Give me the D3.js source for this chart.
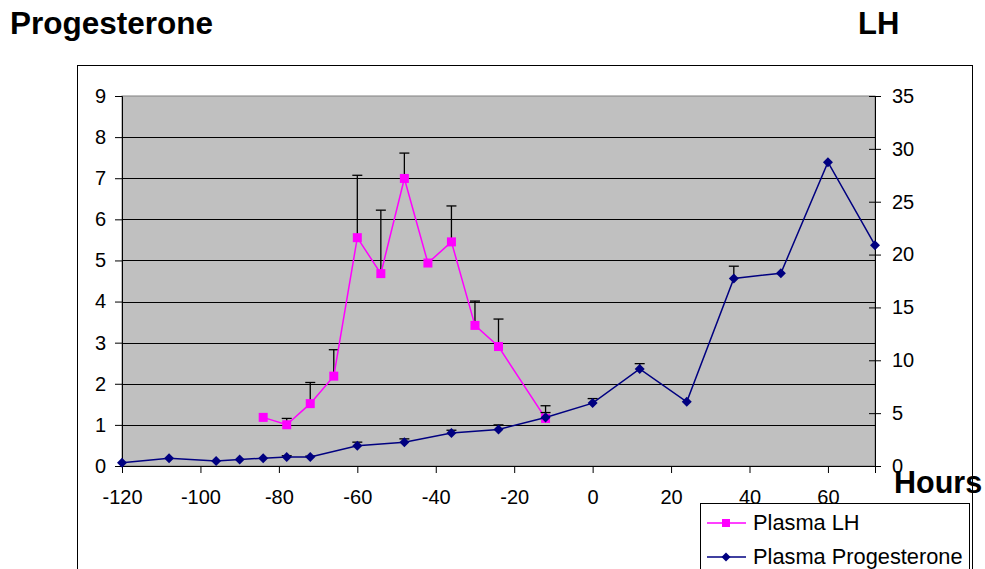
<!DOCTYPE html>
<html>
<head>
<meta charset="utf-8">
<script src="https://cdn.jsdelivr.net/npm/d3@7"></script>
<style>
  html, body { margin: 0; padding: 0; background: #fff; }
  svg { display: block; font-family: "Liberation Sans", Arial, sans-serif; }
</style>
</head>
<body>
<svg id="chart" width="985" height="569"></svg>
<script>
// ---- data ----
const hoursLH = [-84, -78, -72, -66, -60, -54, -48, -42, -36, -30, -24, -12];
const plasmaLH = [4.6, 3.9, 5.9, 8.5, 21.6, 18.2, 27.2, 19.2, 21.2, 13.3, 11.3, 4.5];
const plasmaLHErr = [0, 0.6, 2.0, 2.5, 5.9, 6.0, 2.4, 0, 3.4, 2.3, 2.6, 1.2];

const hoursProg = [-120, -108, -96, -90, -84, -78, -72, -60, -48, -36, -24, -12, 0, 12, 24, 36, 48, 60, 72];
const plasmaProg = [0.08, 0.19, 0.12, 0.16, 0.19, 0.22, 0.22, 0.49, 0.58, 0.80, 0.89, 1.18, 1.53, 2.36, 1.56, 4.56, 4.69, 7.39, 5.37];
const plasmaProgErr = [0, 0, 0, 0, 0, 0.03, 0.02, 0.09, 0.08, 0.07, 0.11, 0.12, 0.11, 0.13, 0, 0.30, 0, 0, 0];

const xTicks = [-120, -100, -80, -60, -40, -20, 0, 20, 40, 60];
const leftTicks = [0, 1, 2, 3, 4, 5, 6, 7, 8, 9];
const rightTicks = [0, 5, 10, 15, 20, 25, 30, 35];

const leftTitle = "Progesterone";
const rightTitle = "LH";
const xTitle = "Hours";
const legendLabels = ["Plasma LH", "Plasma Progesterone"];

// ---- layout ----
const svg = d3.select("#chart");
const L = 122, R = 875, T = 96, B = 466;

const x = d3.scaleLinear().domain([-120, 72]).range([L, R]);
const yL = d3.scaleLinear().domain([0, 9]).range([B, T]);
const yR = d3.scaleLinear().domain([0, 35]).range([B, T]);
const fmt = d => String(d);

// outer chart border
svg.append("rect").attr("x", 77.5).attr("y", 65.5).attr("width", 895).attr("height", 600)
  .attr("fill", "#fff").attr("stroke", "#000").attr("stroke-width", 1);

// plot area
svg.append("rect").attr("x", L).attr("y", T).attr("width", R - L).attr("height", B - T)
  .attr("fill", "#c0c0c0").attr("stroke", "#808080").attr("stroke-width", 1);

// gridlines
svg.append("g").selectAll("line").data(leftTicks.filter(d => d > 0 && d < 9)).join("line")
  .attr("x1", L).attr("x2", R)
  .attr("y1", d => Math.round(yL(d)) + 0.5).attr("y2", d => Math.round(yL(d)) + 0.5)
  .attr("stroke", "#000").attr("stroke-width", 1);

// axes
const fontSize = 20;
const gLeft = svg.append("g").attr("transform", `translate(${L},0)`)
  .call(d3.axisLeft(yL).tickValues(leftTicks).tickSize(7).tickPadding(9).tickFormat(fmt));
const gRight = svg.append("g").attr("transform", `translate(${R},0)`)
  .call(d3.axisRight(yR).tickValues(rightTicks).tickSize(6).tickPadding(11).tickFormat(fmt));
gRight.selectAll(".tick line").attr("x1", -6);
const gBottom = svg.append("g").attr("transform", `translate(0,${B})`)
  .call(d3.axisBottom(x).tickValues(xTicks).tickSize(7).tickPadding(17).tickFormat(fmt));

[gLeft, gRight, gBottom].forEach(g => {
  g.selectAll(".domain").attr("stroke", "#000").attr("stroke-width", 1);
  g.selectAll(".tick line").attr("stroke", "#000");
  g.selectAll("text").attr("font-size", fontSize).attr("fill", "#000")
    .attr("font-family", "'Liberation Sans', Arial, sans-serif");
});
gBottom.selectAll("text").attr("dy", "0.71em");

// error bars helper
function errorBars(hours, vals, errs, yScale) {
  const data = hours.map((h, i) => ({h, v: vals[i], e: errs[i]})).filter(d => d.e > 0);
  const g = svg.append("g").attr("stroke", "#000").attr("stroke-width", 1.3);
  g.selectAll("line.v").data(data).join("line").attr("class", "v")
    .attr("x1", d => x(d.h)).attr("x2", d => x(d.h))
    .attr("y1", d => yScale(d.v)).attr("y2", d => yScale(d.v + d.e));
  g.selectAll("line.c").data(data).join("line").attr("class", "c")
    .attr("x1", d => x(d.h) - 5).attr("x2", d => x(d.h) + 5)
    .attr("y1", d => yScale(d.v + d.e)).attr("y2", d => yScale(d.v + d.e));
}

// LH series (right axis)
const lhData = hoursLH.map((h, i) => ({h, v: plasmaLH[i]}));
errorBars(hoursLH, plasmaLH, plasmaLHErr, yR);
svg.append("path").datum(lhData)
  .attr("d", d3.line().x(d => x(d.h)).y(d => yR(d.v)))
  .attr("fill", "none").attr("stroke", "#ff00ff").attr("stroke-width", 1.5);
svg.append("g").selectAll("rect").data(lhData).join("rect")
  .attr("x", d => x(d.h) - 4.5).attr("y", d => yR(d.v) - 4.5)
  .attr("width", 9).attr("height", 9).attr("fill", "#ff00ff");

// Progesterone series (left axis)
const pData = hoursProg.map((h, i) => ({h, v: plasmaProg[i]}));
errorBars(hoursProg, plasmaProg, plasmaProgErr, yL);
svg.append("path").datum(pData)
  .attr("d", d3.line().x(d => x(d.h)).y(d => yL(d.v)))
  .attr("fill", "none").attr("stroke", "#000080").attr("stroke-width", 1.5);
const diamond = "M0,-5L5,0L0,5L-5,0Z";
svg.append("g").selectAll("path").data(pData).join("path")
  .attr("transform", d => `translate(${x(d.h)},${yL(d.v)})`)
  .attr("d", diamond).attr("fill", "#000080");

// titles
svg.append("text").attr("x", 10).attr("y", 34).text(leftTitle)
  .attr("font-size", 31.5).attr("font-weight", "bold").attr("fill", "#000");
svg.append("text").attr("x", 858).attr("y", 34).text(rightTitle)
  .attr("font-size", 31).attr("font-weight", "bold").attr("fill", "#000");
svg.append("text").attr("x", 894).attr("y", 493).text(xTitle)
  .attr("font-size", 30.5).attr("font-weight", "bold").attr("fill", "#000");

// legend
const lg = svg.append("g");
lg.append("rect").attr("x", 700.5).attr("y", 503.5).attr("width", 269).attr("height", 100)
  .attr("fill", "#fff").attr("stroke", "#000").attr("stroke-width", 1);
const legendColors = ["#ff00ff", "#000080"];
const legendY = [523, 557];
legendLabels.forEach((lab, i) => {
  const yy = legendY[i];
  lg.append("line").attr("x1", 707).attr("x2", 746).attr("y1", yy).attr("y2", yy)
    .attr("stroke", legendColors[i]).attr("stroke-width", 1.5);
  if (i === 0) {
    lg.append("rect").attr("x", 722).attr("y", yy - 4).attr("width", 8).attr("height", 8).attr("fill", legendColors[i]);
  } else {
    lg.append("path").attr("transform", `translate(726,${yy})`).attr("d", "M0,-4.5L4.5,0L0,4.5L-4.5,0Z").attr("fill", legendColors[i]);
  }
  lg.append("text").attr("x", 753).attr("y", yy + 7).text(lab)
    .attr("font-size", 21.8).attr("fill", "#000");
});
</script>
</body>
</html>
